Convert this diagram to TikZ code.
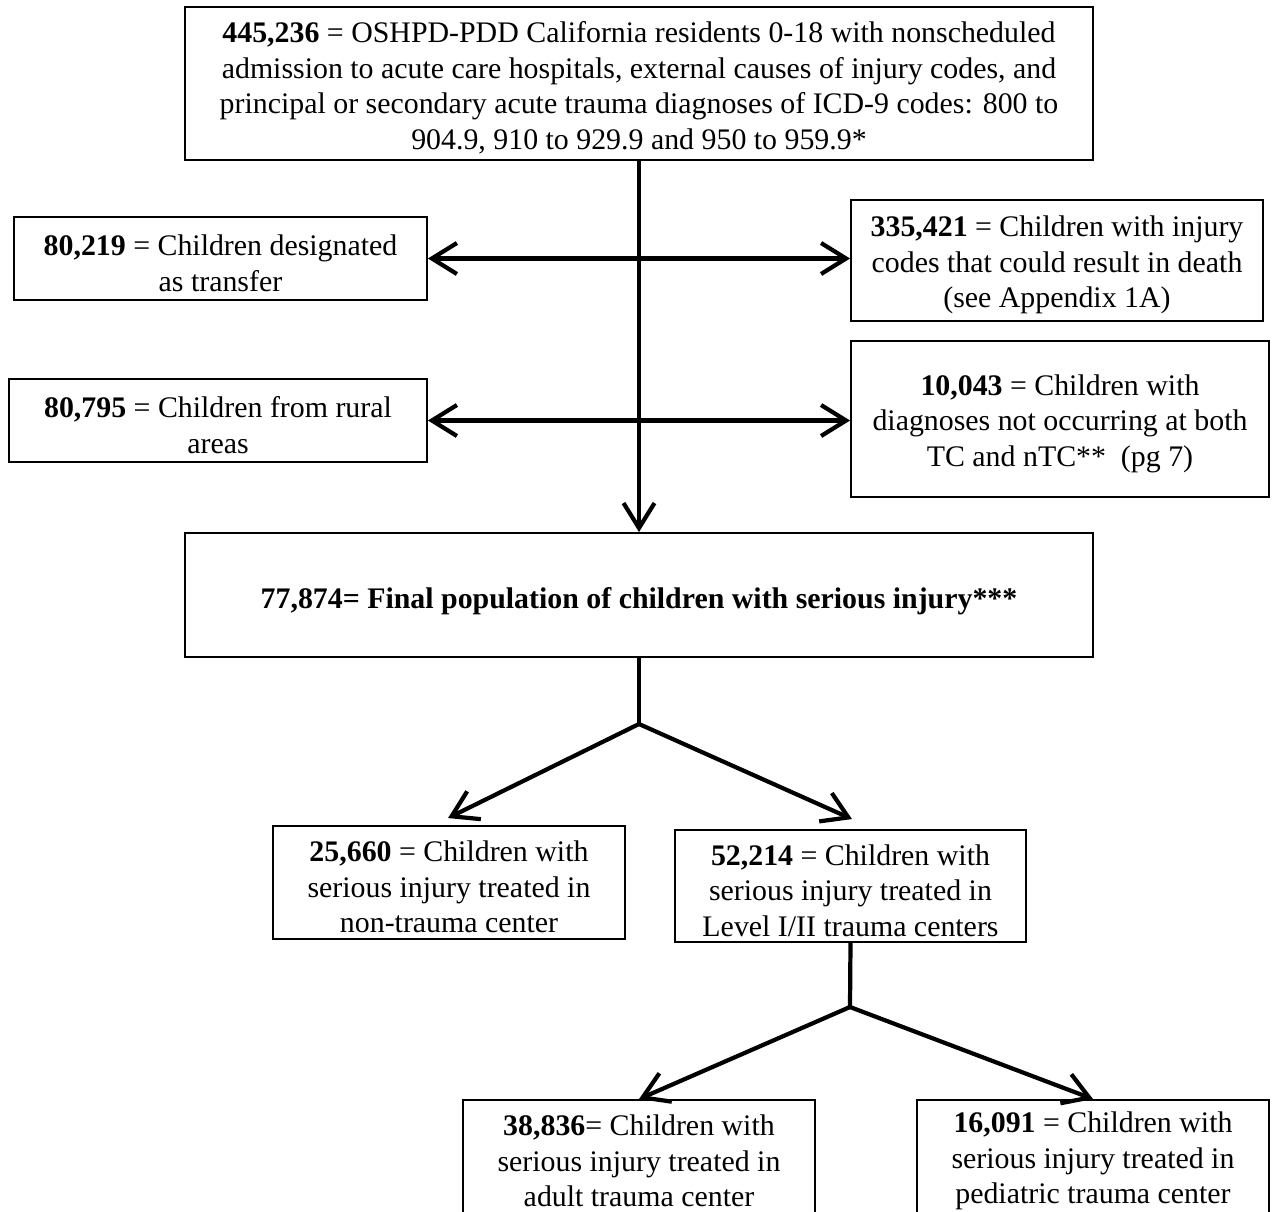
\documentclass[tikz,border=0pt]{standalone}
\usepackage{fontspec}
\setmainfont{Liberation Serif}
\usetikzlibrary{arrows.meta,calc}
\newcommand{\topstrut}{\rule{0pt}{17pt}}
\newcommand{\onestrut}{\rule{0pt}{19pt}}
\begin{document}
\begin{tikzpicture}[x=0.02cm,y=-0.02cm,
  box/.style={draw, line width=1.1pt, inner sep=0pt, align=center, font=\fontsize{17}{20.3}\selectfont},
  tipa/.tip={Straight Barb[length=0.5cm,width=0.62cm]},
  conn/.style={line width=2.4pt, -tipa},
  both/.style={line width=2.4pt, tipa-tipa},
  plain/.style={line width=2.4pt}]
\fill[white] (0,0) rectangle (1275,1211);
\useasboundingbox (0,0) rectangle (1275,1211);

\node[box, minimum width=18.16cm, minimum height=3.06cm] (top) at (639,83.5)
 {\topstrut\textbf{445,236} = OSHPD-PDD California residents 0-18 with nonscheduled\\
  admission to acute care hospitals, external causes of injury codes, and\\
  principal or secondary acute trauma diagnoses of ICD-9 codes: 800 to\\
  904.9, 910 to 929.9 and 950 to 959.9*};

\node[box, minimum width=8.26cm, minimum height=1.66cm] (l1) at (220.5,258.5)
 {\topstrut\textbf{80,219} = Children designated\\ as transfer};
\node[box, minimum width=8.24cm, minimum height=2.42cm] (r1) at (1057,260.5)
 {\topstrut\textbf{335,421} = Children with injury\\ codes that could result in death\\ (see Appendix 1A)};
\node[box, minimum width=8.36cm, minimum height=1.66cm] (l2) at (218,420.5)
 {\topstrut\textbf{80,795} = Children from rural\\ areas};
\node[box, minimum width=8.36cm, minimum height=3.12cm] (r2) at (1060,419)
 {\topstrut\textbf{10,043} = Children with\\ diagnoses not occurring at both\\ TC and nTC**\ \ (pg 7)};

\node[box, minimum width=18.16cm, minimum height=2.48cm] (fin) at (639,595)
 {\onestrut\textbf{77,874= Final population of children with serious injury***}};

\node[box, minimum width=7.04cm, minimum height=2.26cm] (ml) at (449,882.5)
 {\topstrut\textbf{25,660} = Children with\\ serious injury treated in\\ non-trauma center};
\node[box, minimum width=7.02cm, minimum height=2.24cm] (mr) at (850.5,886)
 {\topstrut\textbf{52,214} = Children with\\ serious injury treated in\\ Level I/II trauma centers};

\node[box, minimum width=7.04cm, minimum height=2.26cm] (bl) at (639,1156.5)
 {\topstrut\textbf{38,836}= Children with\\ serious injury treated in\\ adult trauma center};
\node[box, minimum width=7.04cm, minimum height=2.26cm] (br) at (1093,1156.5)
 {\topstrut\textbf{16,091} = Children with\\ serious injury treated in\\ pediatric trauma center};

\coordinate (j1) at (639,724);
\coordinate (j2) at (850,1007);

\draw[conn] (top.south) -- (fin.north);
\draw[both] (l1.east) -- (l1.east -| r1.west);
\draw[both] (l2.east) -- (l2.east -| r2.west);

\draw[plain] (fin.south) -- (j1);
\draw[conn] (j1) -- ([xshift=-0.02cm,yshift=0.14cm]ml.north);
\draw[conn] (j1) -- ([xshift=0.03cm,yshift=0.2cm]mr.north);

\draw[plain] (mr.south) -- (j2);
\draw[conn] (j2) -- (bl.north);
\draw[conn] (j2) -- (br.north);
\end{tikzpicture}
\end{document}
